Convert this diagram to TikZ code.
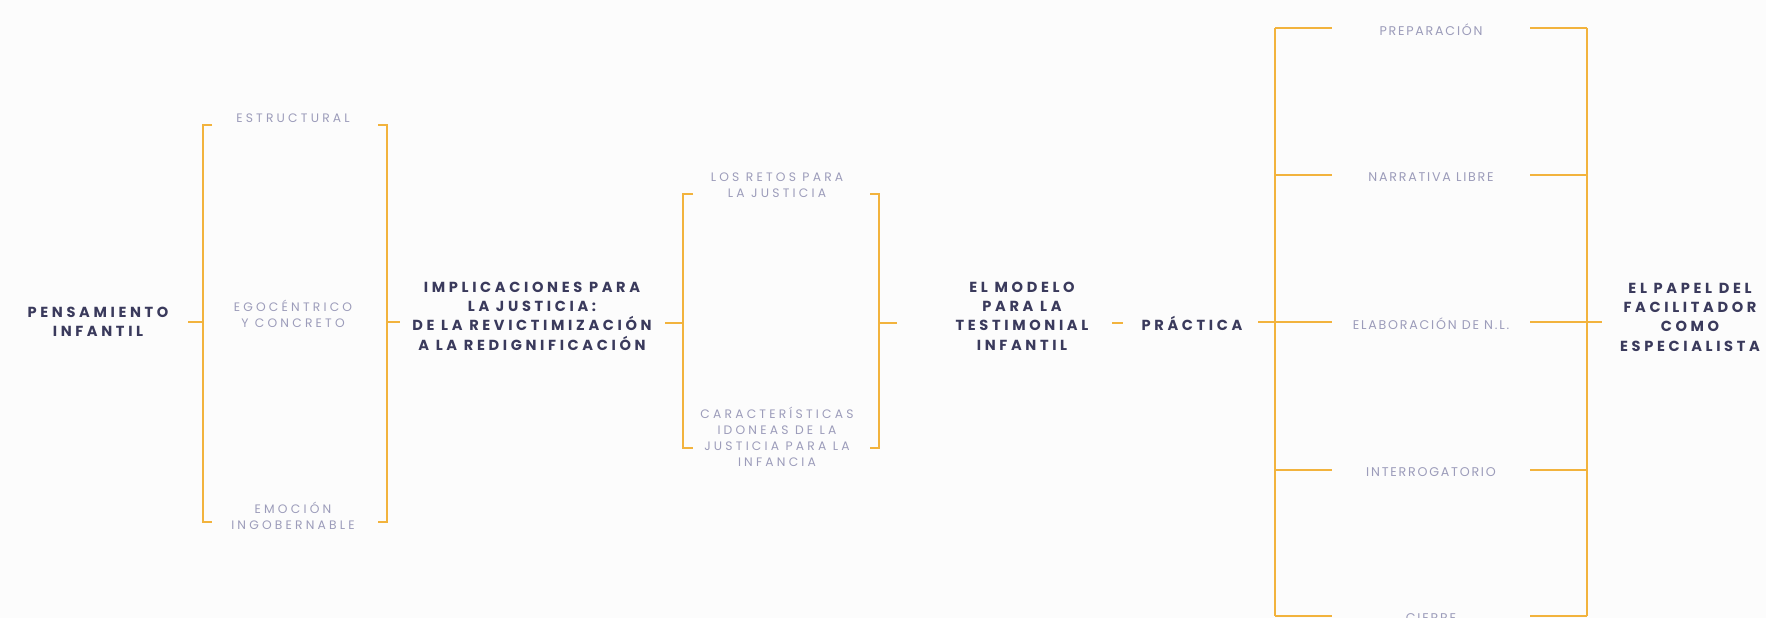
\documentclass[tikz,border=0pt]{standalone}
\usepackage{fontspec}
\usetikzlibrary{positioning,calc}
\newfontfamily\headfont[LetterSpace=25]{Poppins}
\newfontfamily\subfont[LetterSpace=26]{Poppins}
\newfontfamily\rowfont[LetterSpace=14]{Poppins}
\definecolor{amber}{HTML}{F2B33D}
\definecolor{darkink}{HTML}{3A3A5C}
\definecolor{lightink}{HTML}{9C9CBA}
\definecolor{paper}{HTML}{FCFCFC}
\tikzset{
  maintext/.style={font=\headfont\bfseries\fontsize{8.3}{11}\selectfont, text=darkink, align=center, inner sep=1pt},
  subtext/.style={font=\subfont\fontsize{7}{9.2}\selectfont, text=lightink, align=center, inner sep=1pt},
  rowtext/.style={font=\rowfont\fontsize{7.2}{8}\selectfont, text=lightink, align=center, inner sep=1pt},
  bracketline/.style={draw=amber, line width=1.6pt}
}

\begin{document}
\begin{tikzpicture}[x=0.02cm, y=-0.02cm]
    \useasboundingbox (0,0) rectangle (1766,618);
    \fill[paper] (0,0) rectangle (1766,618);
    \clip (0,0) rectangle (1766,618);

    % Nodes
    \node [maintext] (pens) at (98,322) {PENSAMIENTO\\INFANTIL};
    \node [subtext] (estruct) at (293,118) {ESTRUCTURAL};
    \node [subtext] (egoc) at (293,314) {EGOCÉNTRICO\\Y CONCRETO};
    \node [subtext] (emoc) at (293,516) {EMOCIÓN\\INGOBERNABLE};
    \node [maintext] (impl) at (532,316) {IMPLICACIONES PARA\\LA JUSTICIA:\\DE LA REVICTIMIZACIÓN\\A LA REDIGNIFICACIÓN};
    \node [subtext] (retos) at (777,185) {LOS RETOS PARA\\LA JUSTICIA};
    \node [subtext] (caract) at (777,437) {CARACTERÍSTICAS\\IDONEAS DE LA\\JUSTICIA PARA LA\\INFANCIA};
    \node [maintext] (modelo) at (1022,316) {EL MODELO\\PARA LA\\TESTIMONIAL\\INFANTIL};
    \node [maintext] (practica) at (1192,323) {PRÁCTICA};
    \node [maintext] (papel) at (1690,317) {EL PAPEL DEL\\FACILITADOR\\COMO\\ESPECIALISTA};

    % Brackets
    \coordinate (b1w) at (203,322);
    \coordinate (b1e) at (387,322);
    \coordinate (b2w) at (683,323);
    \coordinate (b2e) at (879,323);
    \coordinate (b3w) at (1275,322);
    \coordinate (b3e) at (1587,322);

    \draw [bracketline] (212,125) -| (b1w) |- (212,522);
    \draw [bracketline] (378,125) -| (b1e) |- (378,522);
    \draw [bracketline] (693,194) -| (b2w) |- (693,448);
    \draw [bracketline] (870,194) -| (b2e) |- (870,448);
    \draw [bracketline] (b3w |- 0,28) -- (b3w |- 0,616);
    \draw [bracketline] (b3e |- 0,28) -- (b3e |- 0,616);

    % Steps of the practice
    \foreach \n/\y/\t in {prep/28/PREPARACIÓN, narr/175/NARRATIVA LIBRE, elab/322/ELABORACIÓN DE N.L., interr/470/INTERROGATORIO, cierre/616/CIERRE}{
        \node [rowtext] (\n) at (1431,\y+2) {\t};
        \draw [bracketline] (b3w |- 0,\y) -- ++(57,0);
        \draw [bracketline] (b3e |- 0,\y) -- ++(-57,0);
    }

    % Stubs
    \draw [bracketline] (b1w) -- ++(-15,0);
    \draw [bracketline] (b1e) -- ++(13,0);
    \draw [bracketline] (b2w) -- ++(-18,0);
    \draw [bracketline] (b2e) -- ++(18,0);
    \draw [bracketline] (1112,323) -- (1123,323);
    \draw [bracketline] (b3w) -- ++(-17,0);
    \draw [bracketline] (b3e) -- ++(15,0);
\end{tikzpicture}
\end{document}
